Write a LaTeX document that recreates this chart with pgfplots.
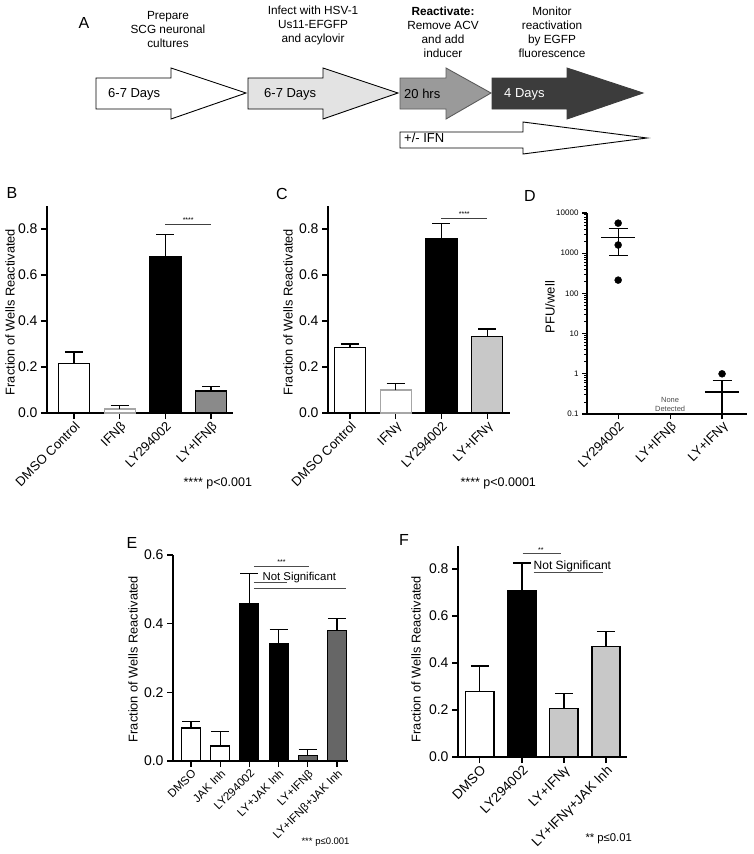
\documentclass[border=0pt]{standalone}
\usepackage{pgfplots}
\pgfplotsset{compat=1.18}
\usepackage{fontspec}
\setmainfont{Liberation Sans}
\newcommand{\fs}[1]{\fontsize{#1}{#1}\selectfont}
\definecolor{gA}{HTML}{E3E3E3}
\definecolor{gB}{HTML}{9A9A9A}
\definecolor{gC}{HTML}{3C3C3C}
\definecolor{lgray}{HTML}{C8C8C8}
\definecolor{mgray}{HTML}{8A8A8A}
\definecolor{dgray}{HTML}{666666}
\pgfplotsset{
  gp/.style={
    scale only axis, anchor=south west,
    axis lines=left, axis line style={-, line width=1.2pt, black},
    tick align=outside, major tick length=6pt, minor tick length=3.5pt,
    tick style={line width=1.2pt, black},
    /pgf/number format/assume math mode=true,
    yticklabel style={font=\fs{14}},
    xticklabel style={font=\fs{13}, rotate=45, anchor=north east, inner sep=1pt},
    clip=false,
  },
  gpbar/.style 2 args={ybar, bar shift=0pt, draw=#1, fill=#2, line width=1.2pt,
    error bars/.cd, y dir=plus, y explicit, error mark=|,
    error bar style={line width=1.2pt, black},
    error mark options={line width=1.2pt, mark size=9pt, black}},
}
\begin{document}
\begin{tikzpicture}
\path[use as bounding box] (0pt,0pt) rectangle (754pt,-854pt);

% ---------- Panel A ----------
\node[font=\fs{16}] at (84pt,-23pt) {A};
\node[align=center, font=\fontsize{11.8}{14}\selectfont] at (168pt,-29pt) {Prepare\\SCG neuronal\\cultures};
\node[align=center, font=\fontsize{11.8}{14}\selectfont] at (313pt,-25pt) {Infect with HSV-1\\Us11-EFGFP\\and acylovir};
\node[align=center, font=\fontsize{11.8}{14}\selectfont] at (443pt,-32pt) {\textbf{Reactivate:}\\Remove ACV\\and add\\inducer};
\node[align=center, font=\fontsize{11.8}{14}\selectfont] at (552pt,-32pt) {Monitor\\reactivation\\by EGFP\\fluorescence};

\draw[line width=0.9pt, fill=white] (96pt,-78pt) -- (171pt,-78pt) -- (171pt,-68pt) -- (246pt,-93pt) -- (171pt,-119pt) -- (171pt,-109pt) -- (96pt,-109pt) -- cycle;
\draw[line width=0.9pt, fill=gA] (248pt,-78pt) -- (323pt,-78pt) -- (323pt,-68pt) -- (398pt,-93pt) -- (323pt,-119pt) -- (323pt,-109pt) -- (248pt,-109pt) -- cycle;
\draw[line width=0.9pt, fill=gB, draw=gB!60!black] (400pt,-78pt) -- (446pt,-78pt) -- (446pt,-68pt) -- (491pt,-93pt) -- (446pt,-119pt) -- (446pt,-109pt) -- (400pt,-109pt) -- cycle;
\draw[line width=0.9pt, fill=gC, draw=gC] (492pt,-78pt) -- (567pt,-78pt) -- (567pt,-68pt) -- (643pt,-93pt) -- (567pt,-119pt) -- (567pt,-109pt) -- (492pt,-109pt) -- cycle;
\draw[line width=0.9pt, fill=white] (400pt,-132pt) -- (523pt,-132pt) -- (523pt,-122pt) -- (647pt,-138pt) -- (523pt,-154pt) -- (523pt,-148pt) -- (400pt,-148pt) -- cycle;
\node[anchor=west, font=\fs{13}, inner sep=0pt] at (108pt,-94pt) {6-7 Days};
\node[anchor=west, font=\fs{13}, inner sep=0pt] at (264pt,-94pt) {6-7 Days};
\node[anchor=west, font=\fs{13}, inner sep=0pt] at (404pt,-94pt) {20 hrs};
\node[anchor=west, font=\fs{13}, inner sep=0pt, text=white] at (504pt,-94pt) {4 Days};
\node[anchor=west, font=\fs{13}, inner sep=0pt] at (404pt,-138pt) {+/- IFN};

% ---------- Panel B ----------
\node[font=\fs{16}] at (12pt,-193pt) {B};
\node[rotate=90, font=\fs{12.8}] at (10pt,-312pt) {Fraction of Wells Reactivated};
\begin{axis}[gp, at={(47pt,-413pt)}, width=186pt, height=207pt,
  xmin=-0.59, xmax=3.48, ymin=0, ymax=0.9, bar width=0.68,
  xtick={0,1,2,3}, xticklabels={DMSO Control,IFNβ,LY294002,LY+IFNβ},
  ytick={0,0.2,0.4,0.6,0.8}, yticklabels={0.0,0.2,0.4,0.6,0.8}]
\addplot[gpbar={black}{white}] coordinates {(0,0.214) +- (0,0.051)};
\addplot[gpbar={gray!70}{white}] coordinates {(1,0.017) +- (0,0.016)};
\addplot[gpbar={black}{black}] coordinates {(2,0.678) +- (0,0.099)};
\addplot[gpbar={black}{mgray}] coordinates {(3,0.096) +- (0,0.018)};
\draw[line width=0.8pt, black!75] (axis cs:2,0.822) -- (axis cs:3,0.822);
\node[font=\fs{7}, anchor=south, inner sep=1.5pt] at (axis cs:2.5,0.822) {****};
\end{axis}
\node[anchor=west, font=\fs{12.5}] at (180pt,-483pt) {**** p<0.001};

% ---------- Panel C ----------
\node[font=\fs{16}] at (282pt,-194pt) {C};
\node[rotate=90, font=\fs{12.8}] at (288pt,-312pt) {Fraction of Wells Reactivated};
\begin{axis}[gp, at={(328pt,-413pt)}, width=182pt, height=207pt,
  xmin=-0.48, xmax=3.5, ymin=0, ymax=0.9, bar width=0.68,
  xtick={0,1,2,3}, xticklabels={DMSO Control,IFNγ,LY294002,LY+IFNγ},
  ytick={0,0.2,0.4,0.6,0.8}, yticklabels={0.0,0.2,0.4,0.6,0.8}]
\addplot[gpbar={black}{white}] coordinates {(0,0.284) +- (0,0.016)};
\addplot[gpbar={gray!70}{white}] coordinates {(1,0.100) +- (0,0.028)};
\addplot[gpbar={black}{black}] coordinates {(2,0.760) +- (0,0.065)};
\addplot[gpbar={black}{lgray}] coordinates {(3,0.333) +- (0,0.032)};
\draw[line width=0.8pt, black!75] (axis cs:2,0.848) -- (axis cs:3,0.848);
\node[font=\fs{7}, anchor=south, inner sep=1.5pt] at (axis cs:2.5,0.848) {****};
\end{axis}
\node[anchor=west, font=\fs{12.5}] at (457pt,-483pt) {**** p<0.0001};

% ---------- Panel D ----------
\node[font=\fs{16}] at (530pt,-196pt) {D};
\node[rotate=90, font=\fs{13}] at (550pt,-307pt) {PFU/well};
\begin{axis}[gp, at={(587pt,-414pt)}, width=160pt, height=201pt,
  xmin=-0.6, xmax=2.48, ymode=log, ymin=0.1, ymax=10000,
  xtick={0,1,2}, xticklabels={LY294002,LY+IFNβ,LY+IFNγ},
  ytick={0.1,1,10,100,1000,10000}, yticklabels={0.1,1,10,100,1000,10000},
  minor ytick={0.2,0.3,0.4,0.5,0.6,0.7,0.8,0.9,2,3,4,5,6,7,8,9,20,30,40,50,60,70,80,90,200,300,400,500,600,700,800,900,2000,3000,4000,5000,6000,7000,8000,9000},
  yticklabel style={font=\fs{8}}, major tick length=5pt, minor tick length=3pt,
  minor tick style={line width=0.8pt}]
\addplot[only marks, mark=*, mark size=3.5pt, black] coordinates {(0,5600) (0,1600) (0,214) (2,1.0)};
\addplot[black, line width=1.3pt, mark=none] coordinates {(-0.33,2500) (0.33,2500)};
\addplot[black, line width=1.3pt, mark=none] coordinates {(1.67,0.35) (2.33,0.35)};
\addplot[draw=none, mark=none, error bars/.cd, y dir=both, y explicit, error mark=|,
  error bar style={line width=1.3pt, black},
  error mark options={line width=1.3pt, mark size=9.5pt, black}]
  coordinates {(0,2500) += (0,1670) -= (0,1640)};
\addplot[draw=none, mark=none, error bars/.cd, y dir=plus, y explicit, error mark=|,
  error bar style={line width=1.3pt, black},
  error mark options={line width=1.3pt, mark size=9.5pt, black}]
  coordinates {(2,0.35) += (0,0.33)};
\draw[line width=1.3pt, black] (axis cs:2,0.35) -- (axis cs:2,0.1);
\node[font=\fontsize{7.5}{9}\selectfont, align=center, text=black!70] at (axis cs:1,0.17) {None\\Detected};
\end{axis}

% ---------- Panel E ----------
\node[font=\fs{16}] at (132pt,-543pt) {E};
\node[rotate=90, font=\fs{12.8}] at (133pt,-659pt) {Fraction of Wells Reactivated};
\begin{axis}[gp, at={(173pt,-761pt)}, width=175pt, height=206pt,
  xmin=-0.62, xmax=5.38, ymin=0, ymax=0.6, bar width=0.65,
  xtick={0,1,2,3,4,5}, xticklabels={DMSO,JAK Inh,LY294002,LY+JAK Inh,LY+IFNβ,LY+IFNβ+JAK Inh},
  xticklabel style={font=\fs{11.5}},
  ytick={0,0.2,0.4,0.6}, yticklabels={0.0,0.2,0.4,0.6}]
\addplot[gpbar={black}{white}] coordinates {(0,0.096) +- (0,0.020)};
\addplot[gpbar={black}{white}] coordinates {(1,0.044) +- (0,0.043)};
\addplot[gpbar={black}{black}] coordinates {(2,0.458) +- (0,0.087)};
\addplot[gpbar={black}{black}] coordinates {(3,0.342) +- (0,0.041)};
\addplot[gpbar={black}{dgray}] coordinates {(4,0.017) +- (0,0.017)};
\addplot[gpbar={black}{dgray}] coordinates {(5,0.380) +- (0,0.035)};
\draw[line width=0.7pt, black!70] (axis cs:2.15,0.568) -- (axis cs:4.05,0.568);
\node[font=\fs{7}, anchor=south, inner sep=1pt] at (axis cs:3.1,0.568) {***};
\node[font=\fs{11.4}, anchor=base, inner sep=0pt] at (axis cs:3.71,0.527) {Not Significant};
\draw[line width=0.7pt, black!70] (axis cs:2.15,0.520) -- (axis cs:3.3,0.520);
\draw[line width=0.7pt, black!70] (axis cs:2.15,0.503) -- (axis cs:5.3,0.503);
\end{axis}
\node[anchor=west, font=\fs{9.5}] at (298pt,-842pt) {*** p≤0.001};

% ---------- Panel F ----------
\node[font=\fs{16}] at (404pt,-540pt) {F};
\node[rotate=90, font=\fs{12.8}] at (416pt,-659pt) {Fraction of Wells Reactivated};
\begin{axis}[gp, at={(458pt,-757pt)}, width=169pt, height=211.5pt,
  xmin=-0.52, xmax=3.5, ymin=0, ymax=0.9, bar width=0.67,
  xtick={0,1,2,3}, xticklabels={DMSO,LY294002,LY+IFNγ,LY+IFNγ+JAK Inh},
  xticklabel style={font=\fs{13.5}},
  ytick={0,0.2,0.4,0.6,0.8}, yticklabels={0.0,0.2,0.4,0.6,0.8}]
\addplot[gpbar={black}{white}] coordinates {(0,0.278) +- (0,0.109)};
\addplot[gpbar={black}{black}] coordinates {(1,0.709) +- (0,0.117)};
\addplot[gpbar={black}{lgray}] coordinates {(2,0.206) +- (0,0.063)};
\addplot[gpbar={black}{lgray}] coordinates {(3,0.471) +- (0,0.064)};
\draw[line width=0.7pt, black!70] (axis cs:1.02,0.866) -- (axis cs:1.93,0.866);
\node[font=\fs{7}, anchor=south, inner sep=1pt] at (axis cs:1.45,0.866) {**};
\node[font=\fs{12}, anchor=base, inner sep=0pt] at (axis cs:2.2,0.797) {Not Significant};
\draw[line width=0.7pt, black!70] (axis cs:1.28,0.787) -- (axis cs:2.93,0.787);
\end{axis}
\node[anchor=west, font=\fs{11.3}] at (582pt,-839pt) {** p≤0.01};
\end{tikzpicture}
\end{document}
